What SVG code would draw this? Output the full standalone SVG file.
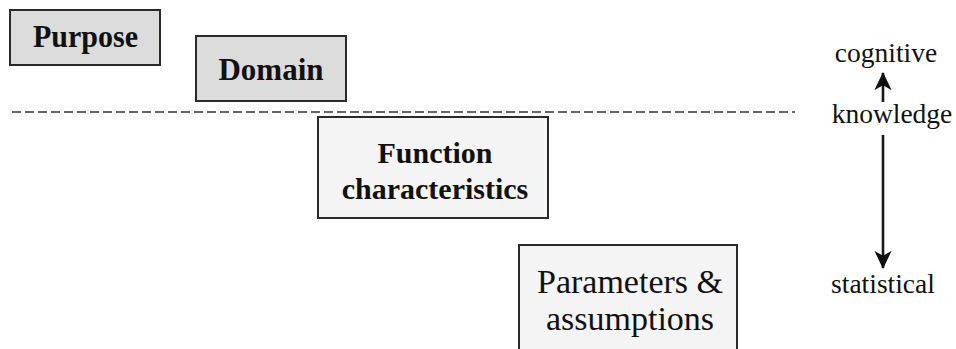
<svg xmlns="http://www.w3.org/2000/svg" width="956" height="349" viewBox="0 0 956 349">
<defs>
<style>
.box{stroke:#2a2a2a;stroke-width:2}
.dark{fill:#dcdcdc}
.light{fill:#f4f4f4}
.b{font-family:"Liberation Serif",serif;font-weight:bold;fill:#111;text-anchor:middle}
.r{font-family:"Liberation Serif",serif;fill:#111;text-anchor:middle}
.lbl{font-family:"Liberation Serif",serif;fill:#111;text-anchor:middle;font-size:27.5px}
.conn{stroke:#1a1a1a;stroke-width:2.6;fill:none}
</style>
<marker id="ah" viewBox="0 0 20 20" refX="18" refY="10" markerWidth="19" markerHeight="19" orient="auto" markerUnits="userSpaceOnUse">
<path d="M0,1 L19,10 L0,19 L5,10 Z" fill="#111"/>
</marker>
</defs>
<rect width="956" height="349" fill="#fff"/>
<g id="purpose">
<rect class="box dark" x="10" y="10" width="150" height="55"/>
<text class="b" x="85.5" y="47" font-size="31.5" textLength="105" lengthAdjust="spacingAndGlyphs">Purpose</text>
</g>
<g id="domain">
<rect class="box dark" x="196" y="36" width="150" height="65"/>
<text class="b" x="271" y="80" font-size="31.5" textLength="105" lengthAdjust="spacingAndGlyphs">Domain</text>
</g>
<g id="function">
<rect class="box light" x="318" y="117" width="230" height="101"/>
<text class="b" x="435" y="163" font-size="30">Function</text>
<text class="b" x="435" y="199" font-size="30">characteristics</text>
</g>
<g id="parameters">
<rect class="box light" x="519" y="245" width="218" height="110"/>
<text class="r" x="630" y="293" font-size="34">Parameters &amp;</text>
<text class="r" x="630" y="330" font-size="34">assumptions</text>
</g>
<g id="labels">
<text class="lbl" x="886" y="62">cognitive</text>
<text class="lbl" x="892" y="123">knowledge</text>
<text class="lbl" x="883" y="293">statistical</text>
</g>
<g id="connectors">
<line x1="12" y1="112" x2="795" y2="112" stroke="#333" stroke-width="1.5" stroke-dasharray="9,4"/>
<line class="conn" x1="883" y1="102" x2="883" y2="73" marker-end="url(#ah)"/>
<line class="conn" x1="883" y1="135" x2="883" y2="268" marker-end="url(#ah)"/>
</g>
</svg>
